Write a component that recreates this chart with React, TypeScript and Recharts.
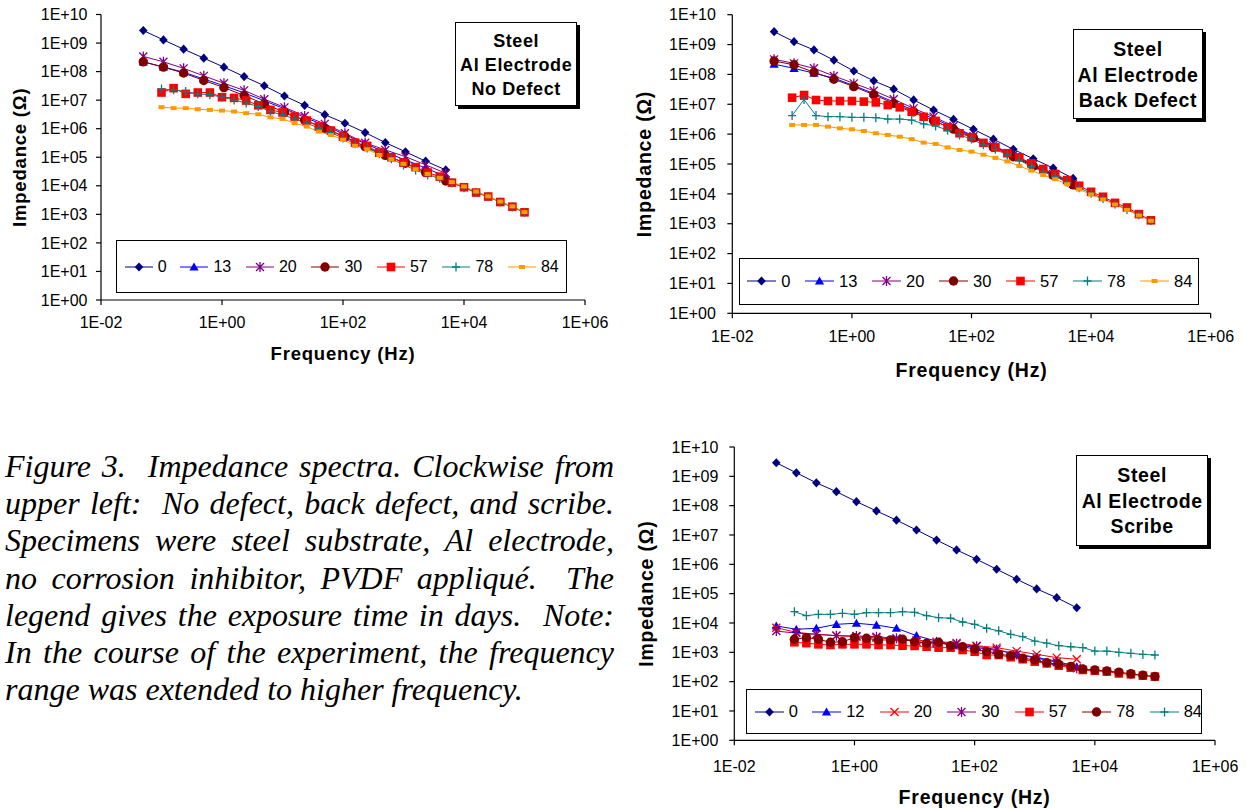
import React from 'react';
import { LineChart, Line, XAxis, YAxis, Legend, Label } from 'recharts';

// ---------- frequencies (Hz) ----------
const F3 = [0.05, 0.1077, 0.2321, 0.5, 1.077, 2.321, 5, 10.77, 23.21, 50, 107.7, 232.1, 500, 1077, 2321, 5000];
const F5 = [0.1, 0.1585, 0.2512, 0.3981, 0.631, 1, 1.585, 2.512, 3.981, 6.31, 10, 15.85, 25.12, 39.81, 63.1, 100, 158.5, 251.2, 398.1, 631, 1000, 1585, 2512, 3981, 6310, 10000, 15850, 25120, 39810, 63100, 100000];

const X_TICKS = [0.01, 1, 100, 10000, 1000000];
const Y_TICKS = [1, 10, 100, 1e3, 1e4, 1e5, 1e6, 1e7, 1e8, 1e9, 1e10];

// ---------- No Defect (upper left) ----------
const ND_0 = [2.75e9, 1.29e9, 6.1e8, 2.96e8, 1.43e8, 6.7e7, 3.2e7, 1.4e7, 6.6e6, 3.1e6, 1.55e6, 7.3e5, 3.27e5, 1.55e5, 7.3e4, 3.6e4];
const ND_13 = [2.2e8, 1.45e8, 9.5e7, 5.5e7, 3.2e7, 1.8e7, 9.5e6, 5e6, 2.5e6, 1.3e6, 6.2e5, 3e5, 1.5e5, 8e4, 4.2e4, 2.1e4];
const ND_20 = [3.4e8, 2.2e8, 1.3e8, 7.1e7, 3.9e7, 2.2e7, 1.08e7, 5.6e6, 2.8e6, 1.48e6, 6.9e5, 3.2e5, 1.8e5, 1.05e5, 5.4e4, 2.75e4];
const ND_30 = [2.2e8, 1.43e8, 8.9e7, 4.9e7, 2.76e7, 1.45e7, 7.4e6, 3.8e6, 2e6, 1.04e6, 5.2e5, 2.35e5, 1.17e5, 6.2e4, 2.9e4, 1.48e4];
const ND_57 = [1.85e7, 2.63e7, 1.66e7, 1.85e7, 1.85e7, 1.27e7, 1.2e7, 9.7e6, 6.6e6, 4.55e6, 3.7e6, 2.66e6, 1.93e6, 1.19e6, 8.6e5, 5.3e5, 3.25e5, 2.5e5, 1.45e5, 1e5, 6.5e4, 4.5e4, 2.9e4, 2.1e4, 1.29e4, 8.9e3, 5.8e3, 4.2e3, 2.7e3, 1.86e3, 1.18e3];
const ND_78 = [2.45e7, 2.3e7, 2e7, 1.66e7, 1.55e7, 1.27e7, 1.02e7, 7.9e6, 6e6, 4e6, 3.05e6, 2.2e6, 1.56e6, 1.05e6, 7.3e5, 4.7e5, 2.95e5, 2.1e5, 1.33e5, 8.8e4, 5.4e4, 3.6e4, 2.4e4, 1.84e4, 1.25e4, 8.6e3, 5.8e3, 4.1e3, 2.7e3, 1.8e3, 1.15e3];
const ND_84 = [5.7e6, 5.25e6, 5.25e6, 4.8e6, 4.55e6, 4.3e6, 4e6, 3.5e6, 3.2e6, 2.5e6, 2.2e6, 1.56e6, 1.19e6, 7.9e5, 6e5, 4.1e5, 2.5e5, 1.9e5, 1.2e5, 8.5e4, 5.9e4, 3.8e4, 2.6e4, 1.9e4, 1.35e4, 9.5e3, 6.3e3, 4.3e3, 2.8e3, 1.9e3, 1.2e3];

// ---------- Back Defect (upper right) ----------
const BD_0 = [2.7e9, 1.25e9, 6.6e8, 3e8, 1.3e8, 6.1e7, 3.2e7, 1.4e7, 6.4e6, 3.1e6, 1.45e6, 6.8e5, 3.1e5, 1.5e5, 7.3e4, 3.3e4];
const BD_13 = [2.2e8, 1.6e8, 1.1e8, 7.5e7, 4.2e7, 2.3e7, 1.2e7, 6.3e6, 3.3e6, 1.7e6, 8e5, 4e5, 1.9e5, 9e4, 4.4e4, 2.1e4];
const BD_20 = [3.2e8, 2.35e8, 1.6e8, 8.9e7, 5e7, 2.85e7, 1.48e7, 7.3e6, 3.8e6, 1.87e6, 8.5e5, 4.2e5, 2e5, 9.5e4, 4.6e4, 2.2e4];
const BD_30 = [2.8e8, 2.1e8, 1.18e8, 6.9e7, 3.9e7, 2.1e7, 1.07e7, 5.6e6, 2.8e6, 1.48e6, 7.5e5, 3.6e5, 1.75e5, 8.5e4, 4.2e4, 2e4];
const BD_57 = [1.66e7, 2.04e7, 1.39e7, 1.29e7, 1.29e7, 1.29e7, 1.23e7, 1.16e7, 9.4e6, 7.9e6, 5.6e6, 3.8e6, 2.76e6, 1.7e6, 1.07e6, 7.9e5, 5.1e5, 3.6e5, 2.3e5, 1.67e5, 1.05e5, 6.8e4, 4.6e4, 2.9e4, 1.87e4, 1.17e4, 8e3, 5e3, 3.5e3, 2.1e3, 1.3e3];
const BD_78 = [4.2e6, 1.45e7, 4.2e6, 3.85e6, 3.85e6, 3.65e6, 3.65e6, 3.55e6, 3.2e6, 3.2e6, 2.96e6, 2.2e6, 1.87e6, 1.37e6, 9.3e5, 6.9e5, 4.4e5, 3.1e5, 2e5, 1.35e5, 8.1e4, 5.5e4, 3.8e4, 2.45e4, 1.6e4, 1.05e4, 7e3, 4.6e3, 3e3, 2e3, 1.25e3];
const BD_84 = [2.03e6, 2.03e6, 2.03e6, 1.78e6, 1.57e6, 1.45e6, 1.27e6, 1.07e6, 9.4e5, 8.2e5, 6.8e5, 5.2e5, 4.7e5, 3.6e5, 2.95e5, 2.6e5, 2.05e5, 1.6e5, 1.22e5, 8.5e4, 6e4, 4.3e4, 3.1e4, 2.1e4, 1.4e4, 9.5e3, 6.5e3, 4.4e3, 2.9e3, 1.9e3, 1.25e3];

// ---------- Scribe (lower right) ----------
const SC_0 = [2.9e9, 1.32e9, 6e8, 3e8, 1.37e8, 6.6e7, 3.2e7, 1.48e7, 6.7e6, 3.1e6, 1.48e6, 6.8e5, 3.1e5, 1.45e5, 7.3e4, 3.3e4];
const SC_12 = [7.9e3, 6.1e3, 6.6e3, 9e3, 9.8e3, 8.5e3, 6.6e3, 3.7e3, 2.4e3, 1.8e3, 1.45e3, 1.17e3, 8.9e2, 6.6e2, 5e2, 3.2e2];
const SC_20 = [6.9e3, 4.8e3, 4.1e3, 3.7e3, 3.4e3, 3.1e3, 2.8e3, 2.6e3, 2.3e3, 2.1e3, 1.68e3, 1.44e3, 1.1e3, 8.5e2, 6.6e2, 5.8e2];
const SC_30 = [5.3e3, 4.5e3, 4.1e3, 3.7e3, 3.6e3, 3.4e3, 3e3, 2.3e3, 2.05e3, 1.95e3, 1.6e3, 1.25e3, 8.5e2, 6.3e2, 4.6e2, 2.85e2];
const SC_57 = [2.2e3, 2.05e3, 1.87e3, 1.78e3, 1.87e3, 1.87e3, 1.87e3, 1.78e3, 1.78e3, 1.68e3, 1.65e3, 1.55e3, 1.44e3, 1.44e3, 1.2e3, 1.05e3, 8.1e2, 8.1e2, 6.8e2, 5.8e2, 4.8e2, 4.2e2, 3.5e2, 3e2, 2.5e2, 2.35e2, 2.2e2, 1.9e2, 1.78e2, 1.6e2, 1.48e2];
const SC_78 = [2.78e3, 3.15e3, 2.78e3, 2.2e3, 2.3e3, 3.15e3, 3e3, 2.64e3, 2.64e3, 2.78e3, 2.3e3, 2.04e3, 2.2e3, 1.68e3, 1.55e3, 1.29e3, 1.05e3, 8.5e2, 7.7e2, 6.3e2, 5.5e2, 4.4e2, 3.9e2, 3.3e2, 2.7e2, 2.5e2, 2.3e2, 2.1e2, 1.85e2, 1.65e2, 1.5e2];
const SC_84 = [2.43e4, 1.78e4, 1.97e4, 1.97e4, 2.14e4, 1.97e4, 2.24e4, 2.24e4, 2.24e4, 2.43e4, 2.3e4, 1.78e4, 1.52e4, 1.45e4, 1.08e4, 9e3, 6.6e3, 5.4e3, 4.1e3, 3.4e3, 2.4e3, 2.05e3, 1.68e3, 1.55e3, 1.44e3, 1.1e3, 1.1e3, 1e3, 9.2e2, 8.5e2, 8.1e2];

const CAPTION_LINES = [
  'Figure 3.\u00a0 Impedance spectra. Clockwise from',
  'upper left:\u00a0 No defect, back defect, and scribe.',
  'Specimens were steel substrate, Al electrode,',
  'no corrosion inhibitor, PVDF appliqué.\u00a0 The',
  'legend gives the exposure time in days.\u00a0 Note:',
  'In the course of the experiment, the frequency',
  'range was extended to higher frequency.',
];

// ---------- styling ----------
const FONT = '"Liberation Sans", Arial, Helvetica, sans-serif';
const NAVY = '#000080';
const BLUE = '#0000FF';
const PURPLE = '#800080';
const MAROON = '#800000';
const RED = '#FF0000';
const TEAL = '#008080';
const ORANGE = '#FF9900';

type Shape = 'diamond' | 'triangle' | 'asterisk' | 'circle' | 'square' | 'plus' | 'dash' | 'cross';
type SeriesDef = { name: string; f: number[]; z: number[]; color: string; shape: Shape };

const ND_SERIES: SeriesDef[] = [
  { name: '0', f: F3, z: ND_0, color: NAVY, shape: 'diamond' },
  { name: '13', f: F3, z: ND_13, color: BLUE, shape: 'triangle' },
  { name: '20', f: F3, z: ND_20, color: PURPLE, shape: 'asterisk' },
  { name: '30', f: F3, z: ND_30, color: MAROON, shape: 'circle' },
  { name: '57', f: F5, z: ND_57, color: RED, shape: 'square' },
  { name: '78', f: F5, z: ND_78, color: TEAL, shape: 'plus' },
  { name: '84', f: F5, z: ND_84, color: ORANGE, shape: 'dash' },
];
const BD_SERIES: SeriesDef[] = [
  { name: '0', f: F3, z: BD_0, color: NAVY, shape: 'diamond' },
  { name: '13', f: F3, z: BD_13, color: BLUE, shape: 'triangle' },
  { name: '20', f: F3, z: BD_20, color: PURPLE, shape: 'asterisk' },
  { name: '30', f: F3, z: BD_30, color: MAROON, shape: 'circle' },
  { name: '57', f: F5, z: BD_57, color: RED, shape: 'square' },
  { name: '78', f: F5, z: BD_78, color: TEAL, shape: 'plus' },
  { name: '84', f: F5, z: BD_84, color: ORANGE, shape: 'dash' },
];
const SC_SERIES: SeriesDef[] = [
  { name: '0', f: F3, z: SC_0, color: NAVY, shape: 'diamond' },
  { name: '12', f: F3, z: SC_12, color: BLUE, shape: 'triangle' },
  { name: '20', f: F3, z: SC_20, color: RED, shape: 'cross' },
  { name: '30', f: F3, z: SC_30, color: PURPLE, shape: 'asterisk' },
  { name: '57', f: F5, z: SC_57, color: RED, shape: 'square' },
  { name: '78', f: F5, z: SC_78, color: MAROON, shape: 'circle' },
  { name: '84', f: F5, z: SC_84, color: TEAL, shape: 'plus' },
];

const fmtExp = (v: number) => {
  const e = Math.round(Math.log10(v));
  return `1E${e < 0 ? '-' : '+'}${String(Math.abs(e)).padStart(2, '0')}`;
};

function Marker({ shape, cx, cy, color }: { shape: Shape; cx: number; cy: number; color: string }) {
  if (cx == null || cy == null || isNaN(cx) || isNaN(cy)) return null;
  switch (shape) {
    case 'diamond':
      return <polygon points={`${cx},${cy - 4.6} ${cx + 4.3},${cy} ${cx},${cy + 4.6} ${cx - 4.3},${cy}`} fill={color} />;
    case 'triangle':
      return <polygon points={`${cx},${cy - 4.6} ${cx + 4.6},${cy + 3.6} ${cx - 4.6},${cy + 3.6}`} fill={color} />;
    case 'square':
      return <rect x={cx - 4.3} y={cy - 4.3} width={8.6} height={8.6} fill={color} />;
    case 'circle':
      return <circle cx={cx} cy={cy} r={4.7} fill={color} />;
    case 'dash':
      return <rect x={cx - 3} y={cy - 2} width={6} height={4} fill={color} />;
    case 'plus':
      return <path d={`M${cx - 4},${cy}H${cx + 4}M${cx},${cy - 4.5}V${cy + 4.5}`} stroke={color} strokeWidth={1.3} fill="none" />;
    case 'cross':
      return <path d={`M${cx - 4},${cy - 4}L${cx + 4},${cy + 4}M${cx - 4},${cy + 4}L${cx + 4},${cy - 4}`} stroke={color} strokeWidth={1.3} fill="none" />;
    case 'asterisk':
      return (
        <path
          d={`M${cx - 4},${cy - 4}L${cx + 4},${cy + 4}M${cx - 4},${cy + 4}L${cx + 4},${cy - 4}M${cx},${cy - 5}V${cy + 5}`}
          stroke={color}
          strokeWidth={1.3}
          fill="none"
        />
      );
    default:
      return null;
  }
}

type ChartCfg = {
  left: number;
  top: number;
  width: number;
  height: number;
  mTop: number;
  mRight: number;
  yAxisWidth: number;
  xAxisHeight: number;
  xTickMargin: number;
  yTickMargin: number;
  xTitleOffset: number;
  yTitleOffset: number;
  titleSize: number;
  legend: { left: number; top: number; width: number; height: number; pad: number; lineLen: number; firstW: number; itemW: number; fontSize: number };
  note: { left: number; top: number; width: number; height: number; lineH: number; padTop: number; fontSize: number; lines: string[] };
};

function LegendBox({ series, cfg }: { series: SeriesDef[]; cfg: ChartCfg['legend'] }) {
  return (
    <div
      style={{
        width: '100%',
        height: '100%',
        boxSizing: 'border-box',
        border: '1px solid #000',
        background: '#fff',
        display: 'flex',
        alignItems: 'center',
        paddingLeft: cfg.pad,
        fontFamily: FONT,
        fontSize: cfg.fontSize,
        color: '#000',
      }}
    >
      {series.map((s, i) => (
        <div key={s.name + i} style={{ display: 'flex', alignItems: 'center', width: i === 0 ? cfg.firstW : cfg.itemW, flex: 'none' }}>
          <svg width={cfg.lineLen} height={14} style={{ display: 'block', flex: 'none' }}>
            <line x1={0} y1={7} x2={cfg.lineLen} y2={7} stroke={s.color} strokeWidth={1} />
            <Marker shape={s.shape} color={s.color} cx={cfg.lineLen / 2} cy={7} />
          </svg>
          <span style={{ marginLeft: 5, lineHeight: 1 }}>{s.name}</span>
        </div>
      ))}
    </div>
  );
}

function ImpedanceChart({ cfg, series }: { cfg: ChartCfg; series: SeriesDef[] }) {
  const tickStyle = { fill: '#000', fontSize: 16, fontFamily: FONT };
  const titleStyle = { fill: '#000', fontSize: cfg.titleSize, fontWeight: 'bold', fontFamily: FONT, letterSpacing: 0.8 };
  return (
    <div style={{ position: 'absolute', left: cfg.left, top: cfg.top, width: cfg.width, height: cfg.height }}>
      <LineChart width={cfg.width} height={cfg.height} margin={{ top: cfg.mTop, right: cfg.mRight, left: 0, bottom: 0 }}>
        <XAxis
          xAxisId="x"
          type="number"
          dataKey="f"
          scale="log"
          domain={[0.01, 1000000]}
          allowDataOverflow
          ticks={X_TICKS}
          interval={0}
          tickFormatter={fmtExp}
          height={cfg.xAxisHeight}
          tickSize={5}
          tickMargin={cfg.xTickMargin}
          tick={tickStyle}
          axisLine={{ stroke: '#000', strokeWidth: 1.2 }}
          tickLine={{ stroke: '#000', strokeWidth: 1.2 }}
        >
          <Label value="Frequency (Hz)" position="insideBottom" offset={cfg.xTitleOffset} style={titleStyle} />
        </XAxis>
        <XAxis
          xAxisId="frameTop"
          orientation="top"
          type="number"
          dataKey="f"
          scale="log"
          domain={[0.01, 1000000]}
          allowDataOverflow
          height={0}
          tick={false}
          tickLine={false}
          axisLine={{ stroke: '#a6a6a6', strokeWidth: 1.2 }}
        />
        <YAxis
          yAxisId="y"
          type="number"
          dataKey="z"
          scale="log"
          domain={[1, 1e10]}
          allowDataOverflow
          ticks={Y_TICKS}
          interval={0}
          tickFormatter={fmtExp}
          width={cfg.yAxisWidth}
          tickSize={5}
          tickMargin={cfg.yTickMargin}
          tick={tickStyle}
          axisLine={{ stroke: '#000', strokeWidth: 1.2 }}
          tickLine={{ stroke: '#000', strokeWidth: 1.2 }}
        >
          <Label
            value="Impedance (Ω)"
            angle={-90}
            position="insideLeft"
            offset={cfg.yTitleOffset}
            style={{ ...titleStyle, textAnchor: 'middle' }}
          />
        </YAxis>
        <YAxis
          yAxisId="frameRight"
          orientation="right"
          type="number"
          dataKey="z"
          scale="log"
          domain={[1, 1e10]}
          allowDataOverflow
          width={0}
          tick={false}
          tickLine={false}
          axisLine={{ stroke: '#a6a6a6', strokeWidth: 1.2 }}
        />
        <Legend
          layout="horizontal"
          verticalAlign="middle"
          align="center"
          wrapperStyle={{
            position: 'absolute',
            left: cfg.legend.left,
            top: cfg.legend.top,
            width: cfg.legend.width,
            height: cfg.legend.height,
            margin: 0,
          }}
          content={() => <LegendBox series={series} cfg={cfg.legend} />}
        />
        {series.map((s) => (
          <Line
            key={s.name + s.color + s.shape}
            xAxisId="x"
            yAxisId="y"
            data={s.f.map((fv, i) => ({ f: fv, z: s.z[i] }))}
            dataKey="z"
            name={s.name}
            stroke={s.color}
            strokeWidth={1}
            isAnimationActive={false}
            dot={(p: any) => <Marker key={`${s.name}-${s.shape}-${p.index}`} shape={s.shape} color={s.color} cx={p.cx} cy={p.cy} />}
            activeDot={false}
          />
        ))}
      </LineChart>
      <div
        style={{
          position: 'absolute',
          left: cfg.note.left,
          top: cfg.note.top,
          width: cfg.note.width,
          height: cfg.note.height,
          boxSizing: 'border-box',
          border: '1px solid #000',
          boxShadow: '3px 3px 0 #000',
          background: '#fff',
          paddingTop: cfg.note.padTop,
          textAlign: 'center',
          fontFamily: FONT,
          fontWeight: 'bold',
          fontSize: cfg.note.fontSize,
          lineHeight: `${cfg.note.lineH}px`,
          letterSpacing: 0.6,
          color: '#000',
        }}
      >
        {cfg.note.lines.map((l) => (
          <div key={l}>{l}</div>
        ))}
      </div>
    </div>
  );
}

const CHART_ND: ChartCfg = {
  left: 0,
  top: 0,
  width: 620,
  height: 372,
  mTop: 14.5,
  mRight: 35,
  yAxisWidth: 101,
  xAxisHeight: 72,
  xTickMargin: 12,
  yTickMargin: 8.5,
  xTitleOffset: 12,
  yTitleOffset: 19.5,
  titleSize: 18.5,
  legend: { left: 115.7, top: 240, width: 451, height: 53.3, pad: 8, lineLen: 28, firstW: 55.7, itemW: 65.5, fontSize: 16 },
  note: { left: 455, top: 21.7, width: 122.3, height: 84.3, lineH: 24.2, padTop: 6, fontSize: 18, lines: ['Steel', 'Al Electrode', 'No Defect'] },
};

const CHART_BD: ChartCfg = {
  left: 620,
  top: 0,
  width: 626,
  height: 390,
  mTop: 14.7,
  mRight: 35.3,
  yAxisWidth: 112.3,
  xAxisHeight: 76.7,
  xTickMargin: 12.5,
  yTickMargin: 11.5,
  xTitleOffset: 13.3,
  yTitleOffset: 24.5,
  titleSize: 19.5,
  legend: { left: 119.3, top: 257.7, width: 459.4, height: 47.3, pad: 7, lineLen: 29, firstW: 57.7, itemW: 67, fontSize: 16.5 },
  note: { left: 452.7, top: 29.3, width: 130.6, height: 89.7, lineH: 25.3, padTop: 7, fontSize: 19.5, lines: ['Steel', 'Al Electrode', 'Back Defect'] },
};

const CHART_SC: ChartCfg = {
  left: 620,
  top: 425,
  width: 626,
  height: 384,
  mTop: 22,
  mRight: 31,
  yAxisWidth: 114.3,
  xAxisHeight: 68.7,
  xTickMargin: 15.5,
  yTickMargin: 11,
  xTitleOffset: 4.7,
  yTitleOffset: 26,
  titleSize: 19.5,
  legend: { left: 125.7, top: 264, width: 456.6, height: 45.3, pad: 8, lineLen: 29, firstW: 57.5, itemW: 67.5, fontSize: 16.5 },
  note: { left: 456, top: 30, width: 132.3, height: 90.7, lineH: 25.5, padTop: 7, fontSize: 19.5, lines: ['Steel', 'Al Electrode', 'Scribe'] },
};

export default function App() {
  return (
    <div style={{ position: 'absolute', left: 0, top: 0, width: 1246, height: 809, background: '#fff', overflow: 'hidden' }}>
      <ImpedanceChart cfg={CHART_ND} series={ND_SERIES} />
      <ImpedanceChart cfg={CHART_BD} series={BD_SERIES} />
      <ImpedanceChart cfg={CHART_SC} series={SC_SERIES} />
      <div
        style={{
          position: 'absolute',
          left: 5,
          top: 448,
          width: 609,
          fontFamily: '"Liberation Serif", "Times New Roman", serif',
          fontStyle: 'italic',
          fontSize: 32,
          lineHeight: '37.2px',
          color: '#000',
        }}
      >
        {CAPTION_LINES.map((l, i) => (
          <div
            key={i}
            style={{
              textAlign: i < CAPTION_LINES.length - 1 ? 'justify' : 'left',
              textAlignLast: i < CAPTION_LINES.length - 1 ? 'justify' : 'left',
              whiteSpace: 'nowrap',
            }}
          >
            {l}
          </div>
        ))}
      </div>
    </div>
  );
}
